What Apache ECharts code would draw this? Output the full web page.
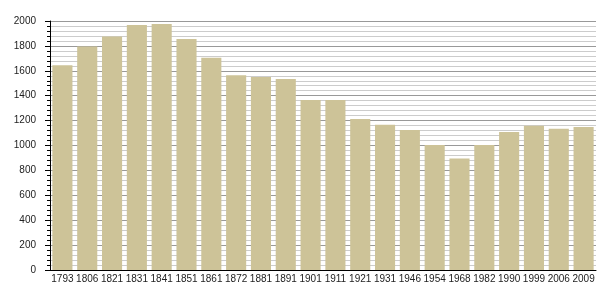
<!DOCTYPE html>
<html>
<head>
<meta charset="utf-8">
<script src="https://cdn.jsdelivr.net/npm/echarts@6/dist/echarts.min.js"></script>
<style>html,body{margin:0;padding:0;background:#fff}#c{width:605px;height:300px}</style>
</head>
<body>
<div id="c"></div>
<script>
const years = ['1793','1806','1821','1831','1841','1851','1861','1872','1881','1891','1901','1911','1921','1931','1946','1954','1968','1982','1990','1999','2006','2009'];
const population = [1645,1795,1875,1968,1976,1855,1705,1564,1550,1534,1365,1365,1213,1167,1124,1004,895,1004,1108,1159,1135,1149];
const yTicks = [0,200,400,600,800,1000,1200,1400,1600,1800,2000];

const chart = echarts.init(document.getElementById('c'), null, {renderer:'canvas'});
chart.setOption({
  animation:false,
  grid:{left:50,right:9,top:21,bottom:30,containLabel:false},
  xAxis:{
    type:'category', data:years,
    axisLine:{lineStyle:{color:'#000',width:1}},
    axisTick:{show:false},
    axisLabel:{interval:0,color:'#222',fontFamily:'Liberation Sans, Arial, sans-serif',fontSize:10,margin:4}
  },
  yAxis:{
    type:'value', min:yTicks[0], max:yTicks[yTicks.length-1], interval:200,
    axisLine:{show:true,lineStyle:{color:'#000',width:1}},
    axisTick:{show:true,length:5,lineStyle:{color:'#000'}},
    minorTick:{show:true,splitNumber:5,length:3,lineStyle:{color:'#000'}},
    splitLine:{show:true,lineStyle:{color:'#999',width:1}},
    minorSplitLine:{show:true,lineStyle:{color:'#ccc',width:1}},
    axisLabel:{color:'#222',fontFamily:'Liberation Sans, Arial, sans-serif',fontSize:10,margin:14,
      formatter:function(v){return String(v);}}
  },
  series:[{
    type:'bar', data:population, barCategoryGap:'19%',
    itemStyle:{color:'#cdc398'}
  }]
});
</script>
</body>
</html>
